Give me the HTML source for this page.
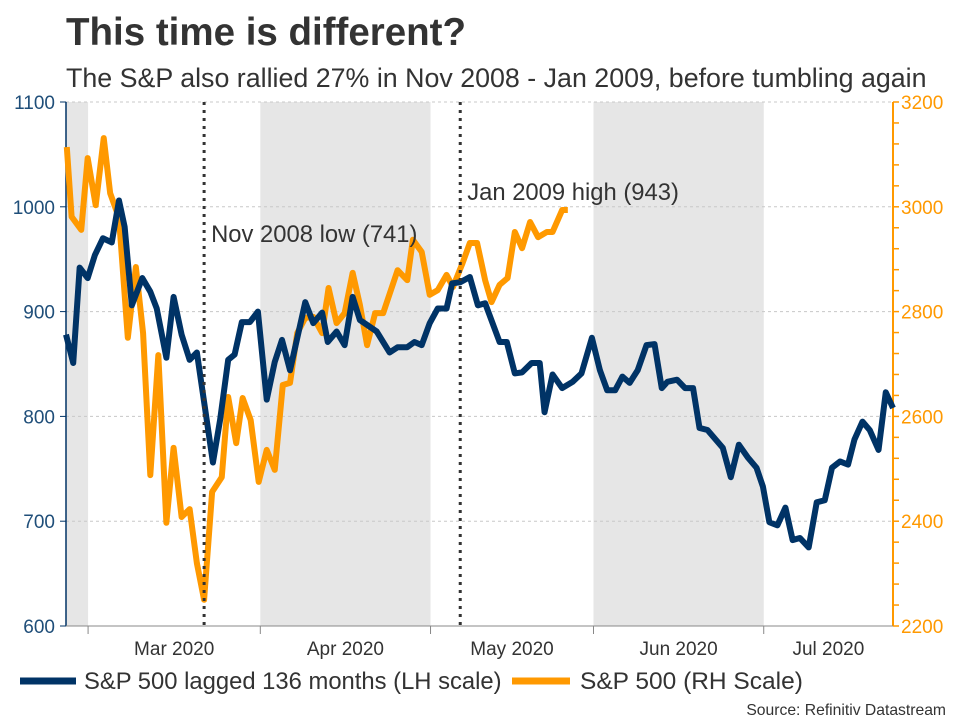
<!DOCTYPE html>
<html><head><meta charset="utf-8"><style>
body{margin:0;background:#fff;}
svg{display:block;font-family:"Liberation Sans",Arial,sans-serif;}
</style></head><body>
<svg id="chart" width="960" height="720">
<text x="66" y="45" font-size="38.5" font-weight="bold" fill="#333">This time is different?</text>
<text x="66" y="87" font-size="26.8" fill="#333">The S&amp;P also rallied 27% in Nov 2008 - Jan 2009, before tumbling again</text>
<g id="bands"></g><g id="grid"></g><g id="axes"></g><g id="lines"></g><g id="annot"></g>
<g>
<line x1="20" y1="681" x2="76" y2="681" stroke="#003366" stroke-width="7"/>
<text x="84" y="689" font-size="23.8" fill="#333">S&amp;P 500 lagged 136 months (LH scale)</text>
<line x1="512" y1="681" x2="570" y2="681" stroke="#ff9900" stroke-width="7"/>
<text x="580" y="689" font-size="24.5" fill="#333">S&amp;P 500 (RH Scale)</text>
</g>
<text x="946" y="715" font-size="15.7" fill="#333" text-anchor="end">Source: Refinitiv Datastream</text>
</svg>
<script>
const navyT=[0,0.9,1.7,2.7,3.6,4.6,5.7,6.6,7.3,8.2,9.5,10.5,11.3,12.5,13.4,14.4,15.4,16.3,17.1,18.3,19.2,20.2,21,21.9,22.9,23.9,25,26,26.9,27.9,29.8,30.8,31.9,32.6,33.7,34.7,35.7,36.6,38.7,40.3,41.3,42.5,43.4,44.3,45.3,46.3,47.4,48.1,49.1,50.3,51.3,52.2,54,54.9,55.9,56.8,58,59,59.6,60.6,61.8,63.1,64.2,65.5,66.5,67.4,68.4,69.3,70.2,71.2,72.3,73.3,74.2,74.9,76.1,77.1,78.1,78.9,79.9,81.8,82.8,83.8,84.9,86,86.8,87.6,88.6,89.6,90.5,91.4,92.5,93.5,94.5,95.4,96.4,97.4,98.2,99.2,100.1,101.2,102.1,103];
const navyVal=[878,851,942,932,954,970,966,1006,981,906,932,919,903,856,914,878,854,861,819,756,797,854,859,890,890,900,816,852,873,844,909,889,899,871,881,868,914,892,881,861,866,866,871,868,889,903,903,927,928,933,906,908,871,871,841,842,851,851,804,840,827,833,841,875,844,825,825,838,832,844,868,869,827,833,835,827,827,789,787,770,742,773,761,751,733,699,696,713,682,684,675,718,720,751,757,754,778,795,787,768,823,808];
const orangeT=[0.1,0.7,1.9,2.7,3.7,4.7,5.5,6.6,7.7,8.7,9.6,10.5,11.5,12.5,13.4,14.4,15.4,16.3,17.2,18.2,19.4,20.2,21.2,22,23,24,25,26,27,27.9,28.8,29.8,30.8,31.9,32.7,33.7,34.7,35.7,36.6,37.5,38.5,39.5,41.3,42.5,43.2,44.3,45.3,46.3,47.4,48.2,49.4,50.3,51.2,52.2,53,54,55,55.9,56.8,57.8,58.8,59.9,60.6,61.8,62.5];
const orangeVal=[3114,2981,2956,3093,3003,3131,3026,2979,2750,2885,2759,2488,2717,2397,2540,2408,2423,2320,2250,2456,2484,2637,2549,2635,2593,2475,2536,2498,2660,2664,2759,2788,2790,2759,2845,2778,2797,2874,2813,2736,2797,2797,2879,2860,2937,2914,2832,2841,2870,2847,2893,2931,2931,2860,2818,2851,2864,2952,2921,2971,2942,2952,2952,2994,2994];
const leftTicks=[600,700,800,900,1000,1100];
const rightTicks=[2200,2400,2600,2800,3000,3200];
const monthLabels=["Mar 2020","Apr 2020","May 2020","Jun 2020","Jul 2020"];
const monthStartT=[2.75,24.2,45.4,65.7,86.9];
const monthEndT=[24.2,45.4,65.7,86.9,103];
const shadedStartT=[0,24.2,65.7];
const shadedEndT=[2.75,45.4,86.9];
const eventT=[17.2,49.1];
const eventLabels=["Nov 2008 low (741)","Jan 2009 high (943)"];
const eventLabelVal=[974,1014];

const X0=66,X1=893,Y0=626,Y1=102;
const x=t=>X0+(t-0)/(103-0)*(X1-X0);
const yL=v=>Y0-(v-600)/(1100-600)*(Y0-Y1);
const yR=v=>Y0-(v-2200)/(3200-2200)*(Y0-Y1);
const NS="http://www.w3.org/2000/svg";
function mk(tag,attrs,parent,txt){const e=document.createElementNS(NS,tag);for(const k in attrs)e.setAttribute(k,attrs[k]);if(txt!==undefined)e.textContent=txt;document.getElementById(parent).appendChild(e);return e;}

shadedStartT.forEach((s,i)=>{
  const r=mk('rect',{x:x(s),y:Y1,width:x(shadedEndT[i])-x(s),height:Y0-Y1,fill:'#e6e6e6'},'bands');
  
  
});
leftTicks.forEach(v=>{
  const g=mk('line',{x1:X0,x2:X1,y1:yL(v),y2:yL(v),stroke:'#c8c8c8','stroke-dasharray':'3,3','stroke-width':1},'grid');
  
  
  mk('line',{x1:X0-6,x2:X0,y1:yL(v),y2:yL(v),stroke:'#003366','stroke-width':1},'axes');
  const t=mk('text',{x:X0-11,y:yL(v)+7,'font-size':19,fill:'#1f4e79','text-anchor':'end'},'axes',v);
  
  
});
for(let v=2200;v<=3200;v+=40){mk('line',{x1:X1,x2:X1+6,y1:yR(v),y2:yR(v),stroke:'#ff9900','stroke-width':1.5},'axes');}
rightTicks.forEach(v=>{
  const t=mk('text',{x:X1+8,y:yR(v)+7,'font-size':19,fill:'#ff9900'},'axes',v);
  
  
});
const la=mk('line',{x1:X0,x2:X0,y1:Y1,y2:Y0,stroke:'#003366','stroke-width':1.5},'axes');


const ra=mk('line',{x1:X1,x2:X1,y1:Y1,y2:Y0,stroke:'#ff9900','stroke-width':2},'axes');


const xa=mk('line',{x1:X0,x2:X1,y1:Y0,y2:Y0,stroke:'#888','stroke-width':1},'axes');


monthLabels.forEach((m,i)=>{
  mk('line',{x1:x(monthStartT[i]),x2:x(monthStartT[i]),y1:Y0,y2:Y0+8,stroke:'#888'},'axes');
  const t=mk('text',{x:(x(monthStartT[i])+x(monthEndT[i]))/2,y:655,'font-size':19,fill:'#333','text-anchor':'middle'},'axes',m);
  
  
});
eventT.forEach((t,i)=>{
  const l=mk('line',{x1:x(t),x2:x(t),y1:Y1,y2:Y0,stroke:'#333','stroke-width':3,'stroke-dasharray':'3,5'},'annot');
  
  
  const tx=mk('text',{x:x(t)+7,y:yL(eventLabelVal[i])+8,'font-size':23.8,fill:'#333'},'annot',eventLabels[i]);
  
  
});
const op=mk('polyline',{points:orangeT.map((t,i)=>x(t)+','+yR(orangeVal[i])).join(' '),fill:'none',stroke:'#ff9900','stroke-width':6,'stroke-linejoin':'round'},'lines');


const np=mk('polyline',{points:navyT.map((t,i)=>x(t)+','+yL(navyVal[i])).join(' '),fill:'none',stroke:'#003366','stroke-width':6,'stroke-linejoin':'round'},'lines');


</script>
</body></html>
